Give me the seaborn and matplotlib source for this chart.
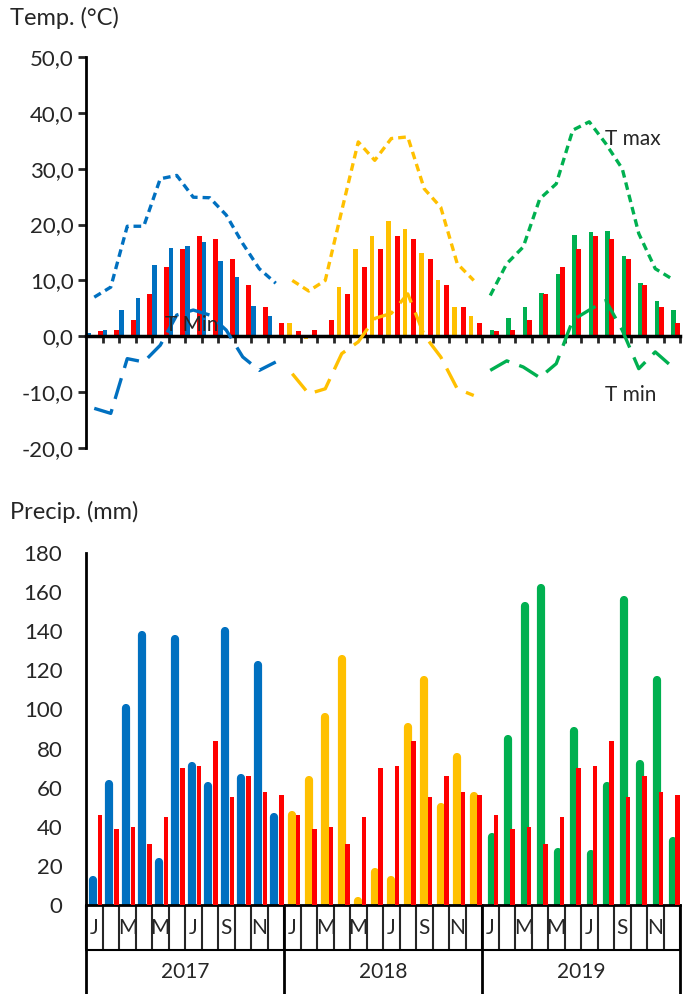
import numpy as np
import pandas as pd
import matplotlib
matplotlib.use("Agg")
import matplotlib.pyplot as plt
import matplotlib.transforms as mtransforms
import seaborn as sns

# values
years = ["2017", "2018", "2019"]
month_letters = ["J", "M", "M", "J", "S", "N"]
year_colors = ["#0070C0", "#FFC000", "#00B050"]
mean_color = "#FF0000"

# monthly mean temperature of each year (coloured bars)
temp_2017 = [0.5, 1.2, 4.7, 6.9, 12.7, 15.8, 16.2, 16.9, 13.5, 10.7, 5.4, 3.7]
temp_2018 = [2.4, -0.5, 0.2, 8.8, 15.6, 17.9, 20.6, 19.2, 15.0, 10.1, 5.3, 3.6]
temp_2019 = [1.1, 3.3, 5.3, 7.8, 11.2, 18.2, 18.6, 18.8, 14.3, 9.6, 6.3, 4.7]
# long-term monthly mean temperature (red bars)
temp_mean = [0.9, 1.1, 3.0, 7.5, 12.4, 15.6, 17.9, 17.5, 13.9, 9.2, 5.2, 2.4]

# T max / T min lines
tmax_2017 = [7.0, 8.8, 19.7, 19.7, 28.2, 28.8, 24.9, 24.8, 21.7, 16.6, 12.1, 9.5]
tmax_2018 = [10.0, 8.1, 10.0, 22.5, 34.8, 31.5, 35.4, 35.7, 26.4, 23.1, 13.0, 10.0]
tmax_2019 = [7.3, 13.0, 16.0, 24.6, 27.3, 36.9, 38.4, 34.5, 30.0, 18.4, 12.1, 10.3]
tmin_2017 = [-12.9, -13.8, -4.0, -4.6, -1.6, 3.8, 4.7, 3.8, 1.1, -3.7, -6.1, -4.6]
tmin_2018 = [-6.7, -10.3, -9.4, -3.1, -1.0, 3.2, 4.1, 7.6, 0.2, -3.7, -9.4, -10.6]
tmin_2019 = [-6.1, -4.4, -5.5, -7.4, -4.9, 2.9, 4.7, 6.4, 1.1, -5.8, -2.8, -5.4]

# precipitation (mm)
prec_2017 = [15, 64, 103, 140, 24, 138, 73, 63, 142, 67, 125, 47]
prec_2018 = [48, 66, 98, 128, 4, 19, 15, 93, 117, 52, 78, 58]
prec_2019 = [37, 87, 155, 164, 29, 91, 28, 63, 158, 74, 117, 35]
prec_mean = [46, 39, 40, 31, 45, 70, 71, 84, 55, 66, 58, 56]

# build one long table, month index 0..35
rows = []
temps = [temp_2017, temp_2018, temp_2019]
tmaxs = [tmax_2017, tmax_2018, tmax_2019]
tmins = [tmin_2017, tmin_2018, tmin_2019]
precs = [prec_2017, prec_2018, prec_2019]
for i, yr in enumerate(years):
    for m in range(12):
        rows.append({"year": yr, "idx": i * 12 + m, "temp": temps[i][m],
                     "temp_mean": temp_mean[m], "tmax": tmaxs[i][m],
                     "tmin": tmins[i][m], "prec": precs[i][m],
                     "prec_mean": prec_mean[m]})
df = pd.DataFrame(rows)

# style
sns.set_theme(style="white")
plt.rcParams["font.family"] = ["Lato", "DejaVu Sans"]

fig = plt.figure(figsize=(6.85, 9.94), dpi=100)
W, H = 685, 994
ax1 = fig.add_axes([86 / W, 1 - 448 / H, 594 / W, 391 / H])
ax2 = fig.add_axes([86 / W, 1 - 905 / H, 594 / W, 352 / H])

# ---- temperature panel
temp_off = [-0.36, -0.16, 0.10]
for i, yr in enumerate(years):
    d = df[df.year == yr]
    ax1.bar(d.idx + temp_off[i], d.temp, width=0.27, color=year_colors[i], lw=0, zorder=2)
    ax1.bar(d.idx + 0.36, d.temp_mean, width=0.3, color=mean_color, lw=0, zorder=2)
    sns.lineplot(data=d, x="idx", y="tmax", ax=ax1, color=year_colors[i],
                 lw=2.4, linestyle=(0, (2.3, 1.5)), zorder=3)
    sns.lineplot(data=d, x="idx", y="tmin", ax=ax1, color=year_colors[i],
                 lw=2.4, linestyle=(0, (6.5, 3.2)), zorder=3)

ax1.set_xlim(-0.5, 35.5)
ax1.set_ylim(-20, 50)
yt = np.arange(-20, 51, 10)
ax1.set_yticks(yt)
ax1.set_yticklabels([f"{v:.1f}".replace(".", ",") for v in yt], fontsize=16)
ax1.set_xticks(np.arange(0.5, 36, 1))
ax1.set_xticklabels([])
ax1.tick_params(axis="y", direction="out", length=6, width=2, pad=3, left=True)
ax1.tick_params(axis="x", direction="out", length=5, width=2, bottom=True)
ax1.set_xlabel("")
ax1.set_ylabel("")
for s in ["top", "right"]:
    ax1.spines[s].set_visible(False)
ax1.spines["bottom"].set_position(("data", 0))
ax1.spines["bottom"].set_linewidth(2.5)
ax1.spines["left"].set_linewidth(2)
for s in ["bottom", "left"]:
    ax1.spines[s].set_color("black")

ax1.text(4.3, 2.0, "T Min", fontsize=15, va="center", zorder=5)
ax1.text(30.95, 35.4, "T max", fontsize=15, va="center")
ax1.text(30.95, -10.6, "T min", fontsize=15, va="center")

# ---- precipitation panel
prec_off = [-0.1, 0.0, 0.1]
bar_lw = 5.9  # points
# round cap adds half the line width on top, take it off so the cap ends at the value
cap = (bar_lw / 2) * 100 / 72 / (352 / 180)
for i, yr in enumerate(years):
    d = df[df.year == yr]
    lc = ax2.vlines(d.idx + prec_off[i], 0, np.maximum(d.prec - cap, 0.5),
                    colors=year_colors[i], lw=bar_lw, zorder=2)
    lc.set_capstyle("round")
    ax2.bar(d.idx + 0.35, d.prec_mean, width=0.26, color=mean_color, lw=0, zorder=3)

ax2.set_xlim(-0.5, 35.5)
ax2.set_ylim(0, 180)
ax2.set_yticks(np.arange(0, 181, 20))
ax2.set_yticklabels([str(v) for v in range(0, 181, 20)], fontsize=16)
ax2.tick_params(axis="y", length=0, pad=17)
ax2.set_xticks(np.arange(-0.5, 36, 1))
ax2.set_xticklabels([])
ax2.tick_params(axis="x", which="major", direction="out", length=32, width=1.5, bottom=True)
ax2.set_xticks(np.arange(0, 36, 2), minor=True)
ax2.set_xticklabels(month_letters * 3, minor=True, fontsize=15)
ax2.tick_params(axis="x", which="minor", length=0, pad=9)
for s in ["top", "right"]:
    ax2.spines[s].set_visible(False)
ax2.spines["bottom"].set_linewidth(2)
ax2.spines["left"].set_linewidth(2)
for s in ["bottom", "left"]:
    ax2.spines[s].set_color("black")

# two-level category axis: line under the months, year separators and year labels
tr = mtransforms.blended_transform_factory(ax2.transData, ax2.transAxes)
ax2.plot([-0.5, 35.5], [-0.128, -0.128], color="black", lw=1.5, transform=tr, clip_on=False)
for xb in [-0.5, 11.5, 23.5, 35.5]:
    ax2.plot([xb, xb], [0, -0.253], color="black", lw=2, transform=tr, clip_on=False)
for i, yr in enumerate(years):
    ax2.text(i * 12 + 5.5, -0.19, yr, fontsize=15, ha="center", va="center", transform=tr)

fig.text(10 / W, 1 - 18 / H, "Temp. (°C)", fontsize=17, va="center")
fig.text(10 / W, 1 - 512 / H, "Precip. (mm)", fontsize=17, va="center")

fig.savefig("out.png", dpi=100)
